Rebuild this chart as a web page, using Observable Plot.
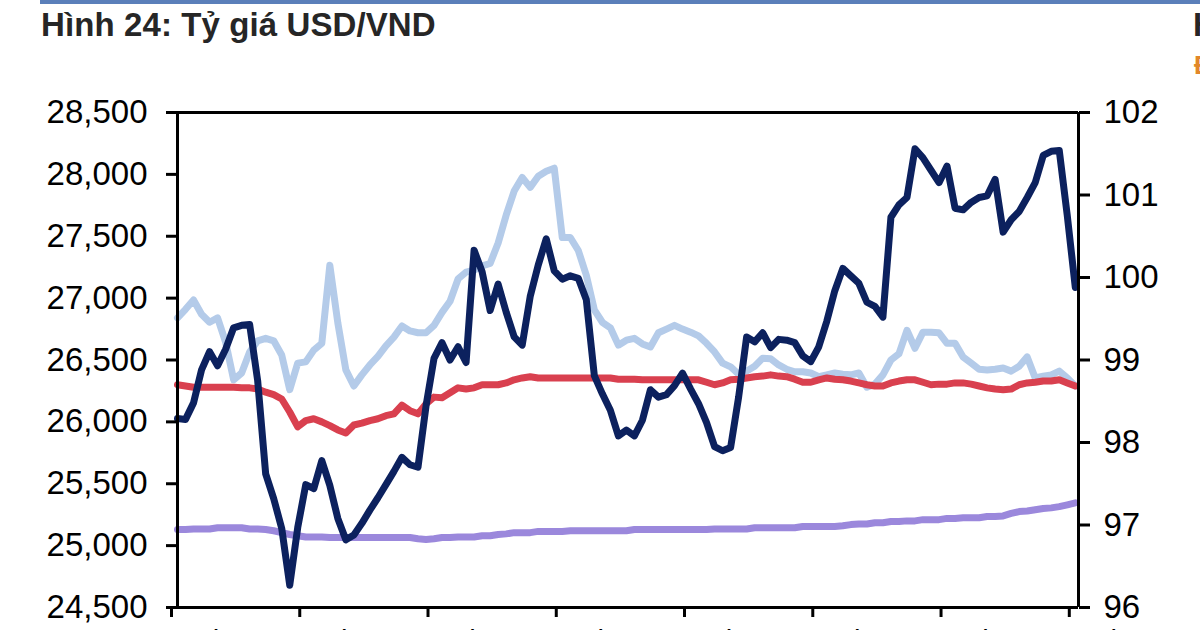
<!DOCTYPE html>
<html>
<head>
<meta charset="utf-8">
<script src="https://cdn.jsdelivr.net/npm/d3@7"></script>
<script src="https://cdn.jsdelivr.net/npm/@observablehq/plot@0.6"></script>
<style>
  body { margin:0; width:1200px; height:630px; overflow:hidden; position:relative; background:#fff; font-family:"Liberation Sans", Arial, sans-serif; }
  #bar { position:absolute; left:40px; top:0; width:1160px; height:4px; background:#5b7fba; }
  #title { position:absolute; left:41px; top:6px; font-size:33px; font-weight:bold; color:#262626; white-space:nowrap; letter-spacing:0.1px; }
  #next1 { position:absolute; left:1193px; top:6px; font-size:33px; font-weight:bold; color:#262626; white-space:nowrap; }
  #next2 { position:absolute; left:1194px; top:50px; font-size:26px; font-weight:bold; color:#e2872a; white-space:nowrap; }
  #chart { position:absolute; left:0; top:60px; }
</style>
</head>
<body>
<div id="bar"></div>
<div id="title">Hình 24: Tỷ giá USD/VND</div>
<div id="next1">Hình 25</div>
<div id="next2">Đơn vị</div>
<div id="chart"></div>
<script>
// Tick labels
const leftTicks = [24500, 25000, 25500, 26000, 26500, 27000, 27500, 28000, 28500];
const rightTicks = [96, 97, 98, 99, 100, 101, 102];
const xTickPos = [0, 16, 32, 48, 64, 80, 96, 112];
const xTickLabels = ["12/24", "01/25", "02/25", "03/25", "04/25", "05/25", "06/25", "07/25"];

// Free-market USD/VND (left axis)
const freeMarket = [26840,26910,26985,26870,26805,26840,26645,26340,26395,26565,26655,26675,26655,26540,26260,26475,26485,26580,26635,27265,26800,26420,26290,26380,26460,26530,26615,26685,26775,26735,26720,26720,26780,26885,26975,27155,27210,27225,27260,27280,27445,27670,27865,27975,27895,27985,28025,28050,27490,27490,27385,27185,26905,26805,26760,26620,26660,26675,26630,26605,26720,26750,26780,26750,26725,26695,26635,26565,26475,26445,26385,26410,26450,26515,26510,26460,26425,26405,26405,26395,26365,26380,26395,26385,26380,26395,26280,26305,26380,26500,26550,26740,26595,26725,26725,26720,26635,26635,26525,26475,26425,26420,26425,26435,26410,26450,26525,26355,26370,26380,26410,26355,26290];
// Interbank USD/VND (left axis)
const interbank = [26300,26290,26280,26280,26280,26280,26280,26280,26275,26275,26265,26240,26220,26185,26080,25960,26010,26025,26000,25970,25935,25910,25975,25990,26010,26025,26050,26065,26135,26090,26065,26145,26200,26195,26235,26275,26265,26275,26300,26300,26300,26315,26340,26355,26365,26355,26355,26355,26355,26355,26355,26355,26355,26355,26355,26345,26345,26345,26340,26340,26340,26340,26340,26340,26340,26340,26320,26300,26315,26340,26345,26355,26365,26370,26380,26370,26365,26345,26320,26320,26340,26355,26345,26340,26330,26315,26300,26290,26290,26315,26330,26340,26340,26320,26300,26305,26305,26315,26315,26305,26290,26275,26265,26260,26265,26300,26315,26320,26330,26330,26340,26315,26290];
// Central rate USD/VND (left axis)
const centralRate = [25130,25130,25135,25135,25135,25145,25145,25145,25145,25135,25135,25130,25120,25105,25090,25080,25070,25070,25070,25065,25065,25065,25065,25065,25065,25065,25065,25065,25065,25065,25055,25050,25055,25065,25065,25070,25070,25070,25080,25080,25090,25095,25105,25105,25105,25115,25115,25115,25115,25120,25120,25120,25120,25120,25120,25120,25120,25130,25130,25130,25130,25130,25130,25130,25130,25130,25130,25135,25135,25135,25135,25135,25145,25145,25145,25145,25145,25145,25155,25155,25155,25155,25155,25160,25170,25175,25175,25185,25185,25195,25195,25200,25200,25210,25210,25210,25220,25220,25225,25225,25225,25235,25235,25240,25260,25275,25280,25290,25300,25305,25315,25330,25345];
// DXY (right axis)
const dxy = [98.29,98.28,98.48,98.88,99.10,98.93,99.13,99.39,99.42,99.43,98.75,97.62,97.32,96.96,96.27,96.97,97.49,97.44,97.78,97.48,97.08,96.82,96.88,97.02,97.18,97.33,97.49,97.65,97.82,97.73,97.70,98.44,99.02,99.21,99.00,99.16,98.97,100.33,100.07,99.60,99.92,99.58,99.28,99.18,99.77,100.15,100.47,100.08,99.98,100.02,99.99,99.73,98.81,98.59,98.39,98.08,98.15,98.08,98.27,98.64,98.55,98.58,98.69,98.84,98.65,98.47,98.24,97.95,97.90,97.94,98.55,99.28,99.22,99.33,99.15,99.25,99.24,99.21,99.05,98.98,99.16,99.47,99.84,100.11,100.02,99.93,99.70,99.65,99.52,100.73,100.88,100.97,101.56,101.45,101.30,101.15,101.35,100.84,100.82,100.91,100.97,100.99,101.19,100.55,100.70,100.80,100.97,101.15,101.48,101.53,101.54,100.75,99.88];

const L0 = 24500, L1 = 28500, R0 = 96, R1 = 102;
const toLeft = v => L0 + (v - R0) * (L1 - L0) / (R1 - R0);
const toRight = v => R0 + (v - L0) * (R1 - R0) / (L1 - L0);

const idx = (d, i) => i;
const xEnd = 112.4;

const chart = Plot.plot({
  width: 1200,
  height: 600,
  marginTop: 52,
  marginBottom: 53,
  marginLeft: 177,
  marginRight: 122,
  style: { fontFamily: "'Liberation Sans', Arial, sans-serif", fontSize: "33px", color: "#000", background: "transparent" },
  x: { domain: [0, xEnd] },
  y: { domain: [L0, L1] },
  marks: [
    Plot.line(freeMarket, { x: idx, y: d => d, stroke: "#b4cbe9", strokeWidth: 7 }),
    Plot.line(centralRate, { x: idx, y: d => d, stroke: "#9b88dc", strokeWidth: 7 }),
    Plot.line(interbank, { x: idx, y: d => d, stroke: "#d9404f", strokeWidth: 7 }),
    Plot.line(dxy, { x: idx, y: d => toLeft(d), stroke: "#0c215e", strokeWidth: 7 }),
    Plot.ruleY([L0, L1], { x1: 0, x2: xEnd, stroke: "#000", strokeWidth: 3 }),
    Plot.ruleX([0, xEnd], { y1: L0, y2: L1, stroke: "#000", strokeWidth: 3 }),
    Plot.axisY(leftTicks, { anchor: "left", tickSize: 11, tickPadding: 19, strokeWidth: 3, tickFormat: d3.format(","), label: null, fill: "#000" }),
    Plot.axisY(rightTicks.map(toLeft), { anchor: "right", tickSize: 11, tickPadding: 14, strokeWidth: 3, tickFormat: d => String(Math.round(toRight(d))), label: null, fill: "#000" }),
    Plot.axisX(xTickPos, { anchor: "bottom", tickSize: 10, tickPadding: 12, strokeWidth: 3, tickFormat: (d, i) => xTickLabels[i], textAnchor: "start", dx: -6, label: null, fill: "#000" })
  ]
});
document.getElementById("chart").appendChild(chart);
</script>
</body>
</html>
